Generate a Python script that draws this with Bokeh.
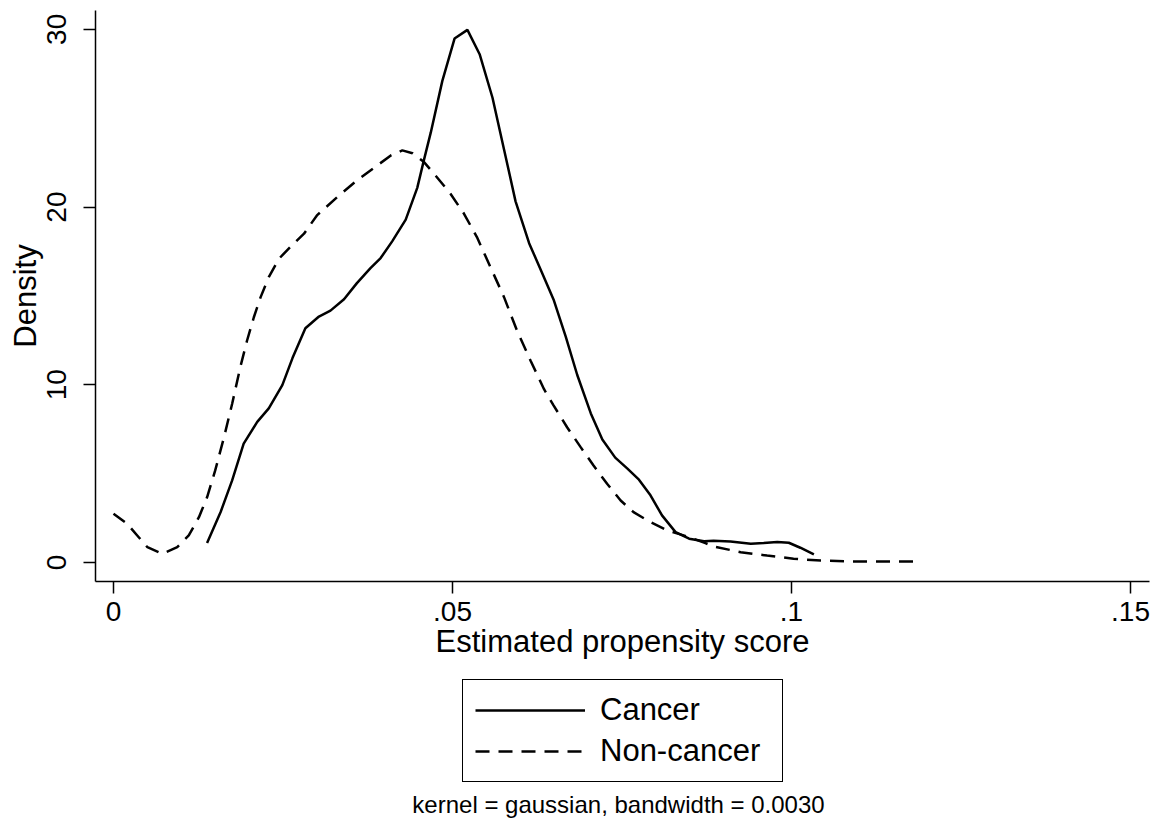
from bokeh.plotting import figure
from bokeh.layouts import column
from bokeh.models import Range1d, FixedTicker, Legend, LegendItem, Label
from bokeh.embed import file_html
from bokeh.resources import INLINE

# ---- data ----
cancer_x = [0.0138, 0.0158, 0.0175, 0.0192, 0.0212, 0.0229, 0.0249, 0.0264, 0.0283, 0.0303,
            0.0320, 0.0340, 0.0359, 0.0379, 0.0394, 0.0411, 0.0431, 0.0448, 0.0458, 0.0468,
            0.0485, 0.0503, 0.0522, 0.0540, 0.0559, 0.0576, 0.0593, 0.0613, 0.0632, 0.0649,
            0.0667, 0.0684, 0.0704, 0.0721, 0.0740, 0.0758, 0.0775, 0.0792, 0.0809, 0.0829,
            0.0849, 0.0871, 0.0885, 0.0910, 0.0940, 0.0959, 0.0979, 0.0996, 0.1013, 0.1033]
cancer_y = [1.09, 2.84, 4.62, 6.69, 7.91, 8.67, 9.98, 11.5, 13.18, 13.84,
            14.17, 14.81, 15.72, 16.56, 17.13, 18.07, 19.29, 21.08, 22.67, 24.2,
            27.1, 29.48, 29.97, 28.6, 26.15, 23.24, 20.32, 17.97, 16.3, 14.8,
            12.71, 10.55, 8.39, 6.92, 5.9, 5.28, 4.66, 3.78, 2.65, 1.71,
            1.34, 1.2, 1.22, 1.18, 1.05, 1.09, 1.15, 1.11, 0.83, 0.45]

noncancer_x = [0.0000, 0.0020, 0.0035, 0.0050, 0.0072, 0.0094, 0.0111, 0.0126, 0.0138, 0.0150,
               0.0163, 0.0175, 0.0187, 0.0197, 0.0207, 0.0217, 0.0229, 0.0244, 0.0262, 0.0281,
               0.0300, 0.0330, 0.0359, 0.0389, 0.0409, 0.0426, 0.0441, 0.0458, 0.0477, 0.0497,
               0.0517, 0.0536, 0.0556, 0.0576, 0.0595, 0.0615, 0.0635, 0.0649, 0.0669, 0.0689,
               0.0708, 0.0728, 0.0748, 0.0767, 0.0792, 0.0817, 0.0836, 0.0856, 0.0873, 0.0885,
               0.0925, 0.0964, 0.1003, 0.1043, 0.1082, 0.1121, 0.1161, 0.1180]
noncancer_y = [2.74, 2.18, 1.52, 0.86, 0.49, 0.86, 1.52, 2.55, 3.67, 5.18,
               7.05, 8.93, 10.99, 12.49, 13.8, 14.93, 16.06, 17.09, 17.8, 18.5,
               19.53, 20.56, 21.5, 22.34, 22.9, 23.19, 23.03, 22.53, 21.68, 20.75,
               19.62, 18.31, 16.62, 14.93, 13.06, 11.37, 9.75, 8.84, 7.61, 6.49,
               5.46, 4.43, 3.49, 2.83, 2.27, 1.8, 1.58, 1.33, 1.09, 0.9,
               0.58, 0.39, 0.21, 0.11, 0.06, 0.05, 0.05, 0.05]

x_ticks = [0, 0.05, 0.1, 0.15]
x_tick_labels = ["0", ".05", ".1", ".15"]
y_ticks = [0, 10, 20, 30]
y_tick_labels = ["0", "10", "20", "30"]
series_labels = ["Cancer", "Non-cancer"]
x_title = "Estimated propensity score"
y_title = "Density"
note = "kernel = gaussian, bandwidth = 0.0030"

FONT = "Liberation Sans"
LW = 2.5
DASH = "14 9"

# ---- main plot ----
p = figure(frame_width=1054, frame_height=571, output_backend="svg", toolbar_location=None,
           x_range=Range1d(-0.002655, 0.1528), y_range=Range1d(-1.07, 31.06),
           min_border_left=95, min_border_right=12, min_border_top=10,
           min_border_bottom=89)
p.xgrid.visible = False
p.ygrid.visible = False
p.outline_line_color = None
p.background_fill_color = "white"
p.border_fill_color = "white"

xa = p.xaxis[0]
ya = p.yaxis[0]
xa.ticker = FixedTicker(ticks=x_ticks)
ya.ticker = FixedTicker(ticks=y_ticks)
xa.major_label_overrides = {t: l for t, l in zip(x_ticks, x_tick_labels)}
ya.major_label_overrides = {t: l for t, l in zip(y_ticks, y_tick_labels)}
xa.axis_label = x_title
ya.axis_label = y_title
ya.major_label_orientation = "vertical"
for ax in (xa, ya):
    ax.axis_line_width = 1.5
    ax.axis_line_color = "black"
    ax.major_tick_line_width = 1.5
    ax.major_tick_line_color = "black"
    ax.major_tick_out = 12
    ax.major_tick_in = 0
    ax.minor_tick_out = 0
    ax.minor_tick_in = 0
    ax.major_label_text_font = FONT
    ax.major_label_text_font_size = "28px"
    ax.major_label_text_color = "black"
    ax.axis_label_text_font = FONT
    ax.axis_label_text_font_size = "31px"
    ax.axis_label_text_font_style = "normal"
    ax.axis_label_text_color = "black"
xa.major_label_standoff = 8
xa.axis_label_standoff = 0
ya.major_label_standoff = 17
ya.axis_label_standoff = 2

p.line(cancer_x, cancer_y, line_width=LW, line_color="black")
p.line(noncancer_x, noncancer_y, line_width=LW, line_color="black", line_dash=DASH)

# ---- legend + note strip (its frame is aligned with the main frame) ----
p2 = figure(width=1161, height=154, output_backend="svg", toolbar_location=None,
            x_axis_type=None, y_axis_type=None, min_border=0,
            x_range=Range1d(0, 1), y_range=Range1d(0, 1))
p2.xgrid.visible = False
p2.ygrid.visible = False
p2.outline_line_color = None
p2.background_fill_color = "white"
p2.border_fill_color = "white"

# legend-key lines kept outside the visible range of this strip
g1 = p2.line(x=[-5, -4], y=[-5, -5], line_width=LW, line_color="black")
g2 = p2.line(x=[-5, -4], y=[-5, -5], line_width=LW, line_color="black", line_dash=DASH)

legend = Legend(items=[LegendItem(label=series_labels[0], renderers=[g1]),
                       LegendItem(label=series_labels[1], renderers=[g2])],
                location=(367, 42), orientation="vertical",
                label_text_font=FONT, label_text_font_size="31px", label_text_color="black",
                glyph_width=110, glyph_height=30, label_height=30, label_width=170,
                label_standoff=15, padding=12, spacing=5, margin=0,
                border_line_color="black", border_line_width=1.5, border_line_alpha=1.0,
                background_fill_color="white", background_fill_alpha=1.0)
p2.add_layout(legend, "center")

p2.add_layout(Label(x=523, y=20, x_units="screen", y_units="screen", text=note,
                    text_align="center", text_baseline="alphabetic",
                    text_font=FONT, text_font_size="24px", text_color="black"))

layout = column(p, p2, spacing=0)
open("out.html", "w").write(file_html(layout, INLINE))
